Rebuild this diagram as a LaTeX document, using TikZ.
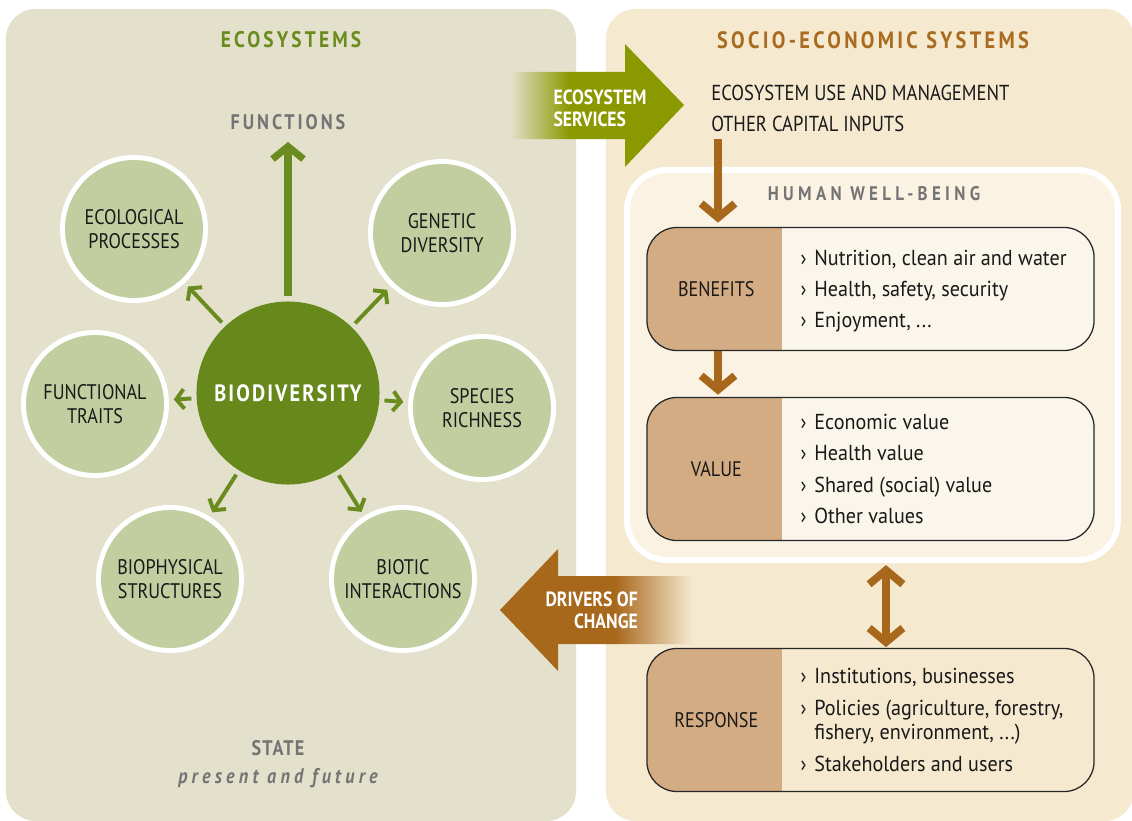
\documentclass[tikz,border=0pt]{standalone}
\usepackage{fontspec}
\setmainfont{PT Sans}[FakeStretch=0.86]
\newfontfamily\listfont{PT Sans}[FakeStretch=0.93]
\newfontfamily\tightcaps{PT Sans}[FakeStretch=0.86,LetterSpace=6]
\newfontfamily\corecaps{PT Sans}[FakeStretch=0.86,LetterSpace=9]
\newfontfamily\spacedcaps{PT Sans}[FakeStretch=0.86,LetterSpace=14]
\newfontfamily\futurefont{PT Sans}[FakeStretch=0.86,LetterSpace=20]
\newfontfamily\widecaps{PT Sans}[FakeStretch=0.86,LetterSpace=22]
\usetikzlibrary{arrows.meta,positioning,calc}
\definecolor{ecobg}{HTML}{E3E1CC}
\definecolor{socbg}{HTML}{F5E9D0}
\definecolor{hwbbg}{HTML}{FAF3E4}
\definecolor{boxbg}{HTML}{FBF6EB}
\definecolor{satgreen}{HTML}{C2CDA0}
\definecolor{biogreen}{HTML}{67881A}
\definecolor{leaf}{HTML}{6A8B1E}
\definecolor{svcgreen}{HTML}{8B9900}
\definecolor{rust}{HTML}{A8681C}
\definecolor{lblbrown}{HTML}{D4AC83}
\definecolor{titlebrown}{HTML}{A86B20}
\definecolor{midgray}{HTML}{747474}
\pgfdeclarehorizontalshading{svcfade}{100bp}{color(0bp)=(ecobg); color(25bp)=(ecobg); color(42bp)=(svcgreen); color(100bp)=(svcgreen)}
\pgfdeclarehorizontalshading{drvfade}{100bp}{color(0bp)=(rust); color(55bp)=(rust); color(75bp)=(socbg); color(100bp)=(socbg)}
\newcommand\labelsize{\fontsize{15}{17}\selectfont}
\newcommand\bul{\makebox[9.8pt][l]{›}}
\newcommand\cont{\hspace*{9.8pt}}
\tikzset{
    panel/.style={
        rectangle,
        rounded corners=0.75cm,
        inner sep=0pt,
    },
    sat/.style={
        circle,
        draw=white,
        line width=3.5pt,
        fill=satgreen,
        minimum size=3.575cm,
        inner sep=0pt,
        align=center,
        text=black!90,
        font=\labelsize,
    },
    core/.style={
        circle,
        fill=biogreen,
        minimum size=4.575cm,
        inner sep=0pt,
        text=white,
        font=\corecaps\bfseries\fontsize{16.8}{19}\selectfont,
    },
    heading/.style={
        inner sep=0pt,
        font=\spacedcaps\bfseries\fontsize{16}{19}\selectfont,
    },
    usetext/.style={
        inner sep=0pt,
        text=black!90,
        font=\fontsize{15.4}{18}\selectfont,
    },
    infobox/.style={
        rectangle,
        rounded corners=0.75cm,
        draw=black!85,
        line width=0.9pt,
        fill=boxbg,
        minimum width=11.175cm,
        path picture={\fill[lblbrown, sharp corners] (path picture bounding box.north west)
            rectangle ([xshift=3.375cm]path picture bounding box.south west);},
    },
    boxlabel/.style={
        inner sep=0pt,
        text=black!90,
        font=\labelsize,
    },
    listtext/.style={
        inner sep=0pt,
        align=left,
        text=black!90,
        font=\listfont\fontsize{15.4}{17.7}\selectfont,
    },
    bigtext/.style={
        inner sep=0pt,
        text=white,
        font=\bfseries\fontsize{14.6}{15.5}\selectfont,
    },
    garrow/.style={
        draw=leaf,
        line width=5pt,
        -{Straight Barb[length=9pt,width=22pt]},
    },
    sarrow/.style={
        draw=leaf,
        line width=2.8pt,
        -{Straight Barb[length=5.5pt,width=14pt]},
        shorten <=3.5pt,
        shorten >=3.5pt,
    },
    barrow/.style={
        draw=rust,
        line width=5.5pt,
        -{Straight Barb[length=10pt,width=24pt]},
    },
    dbarrow/.style={
        draw=rust,
        line width=5.5pt,
        {Straight Barb[length=10pt,width=24pt]}-{Straight Barb[length=10pt,width=24pt]},
    },
}
\begin{document}
\begin{tikzpicture}[x=0.025cm,y=-0.025cm]
    \useasboundingbox (0,0) rectangle (1132,821);
    \fill[white] (0,0) rectangle (1132,821);
    % panels
    \node[panel, fill=ecobg, minimum width=14.25cm, minimum height=20.3cm] (ecopanel) at (291,415) {};
    \node[panel, fill=socbg, minimum width=13.2cm, minimum height=20.3cm] (socpanel) at (870,415) {};
    \node[panel, draw=white, line width=4.2pt, fill=hwbbg, rounded corners=1cm,
        minimum width=12.275cm, minimum height=9.75cm] (hwb) at (872.5,365) {};
    \node[heading, text=leaf] (ecotitle) at (291,40) {ECOSYSTEMS};
    \node[heading, text=titlebrown, font=\spacedcaps\bfseries\fontsize{16.8}{19}\selectfont] (soctitle) at (873,40) {SOCIO-ECONOMIC SYSTEMS};
    \node[heading, text=midgray, font=\widecaps\bfseries\fontsize{14}{17}\selectfont] (hwbtitle) at (874,194) {HUMAN WELL-BEING};

    % ecosystem side
    \node[heading, text=midgray, font=\spacedcaps\bfseries\fontsize{15}{18}\selectfont] (functions) at (288,122) {FUNCTIONS};
    \node[core] (bio) at (288,393) {BIODIVERSITY};
    \node[sat] (eco) at (134,229) {ECOLOGICAL\\PROCESSES};
    \node[sat] (gen) at (442,233) {GENETIC\\DIVERSITY};
    \node[sat] (fun) at (95,404) {FUNCTIONAL\\TRAITS};
    \node[sat] (spe) at (482,408) {SPECIES\\RICHNESS};
    \node[sat] (bph) at (170,579) {BIOPHYSICAL\\STRUCTURES};
    \node[sat] (bti) at (403,579) {BIOTIC\\INTERACTIONS};
    \draw[garrow, shorten <=4pt, shorten >=8.5pt] (bio) -- (functions);
    \foreach \s in {eco,gen,fun,spe,bph,bti}
        \draw[sarrow] (bio) -- (\s);
    \node[heading, text=midgray, font=\tightcaps\bfseries\fontsize{15}{18}\selectfont] (state) at (278,748) {STATE};
    \node[heading, text=midgray, font=\futurefont\bfseries\itshape\fontsize{15}{18}\selectfont] (future) at (278,778) {present and future};

    % socio-economic side
    \node[usetext, anchor=west] (use) at (711,93) {ECOSYSTEM USE AND MANAGEMENT};
    \node[usetext, anchor=west] (inputs) at (711,124) {OTHER CAPITAL INPUTS};
    \node[infobox, minimum height=3.075cm] (ben) at (870.5,289) {};
    \node[infobox, minimum height=3.575cm] (val) at (870.5,469) {};
    \node[infobox, fill=socbg, minimum height=3.575cm] (resp) at (870.5,720) {};
    \node[boxlabel] (benlbl) at ($(ben.west)+(70,0)$) {BENEFITS};
    \node[boxlabel] (vallbl) at ($(val.west)+(70,0)$) {VALUE};
    \node[boxlabel] (resplbl) at ($(resp.west)+(70,0)$) {RESPONSE};
    \node[listtext, anchor=west] (benlist) at ($(ben.west)+(154,2)$)
        {\bul Nutrition, clean air and water\\[4.6pt]\bul Health, safety, security\\[4.6pt]\bul Enjoyment, ...};
    \node[listtext, anchor=west] (vallist) at ($(val.west)+(154,0)$)
        {\bul Economic value\\[4.6pt]\bul Health value\\[4.6pt]\bul Shared (social) value\\[4.6pt]\bul Other values};
    \node[listtext, anchor=west] (resplist) at ($(resp.west)+(154,0)$)
        {\bul Institutions, businesses\\[4.6pt]\bul Policies (agriculture, forestry,\\\cont fishery, environment, ...)\\[4.6pt]\bul Stakeholders and users};
    \coordinate (tap) at (718,139);
    \coordinate (link) at (886,0);
    \draw[barrow, shorten >=3pt] (tap) -- (tap |- ben.north);
    \draw[barrow, shorten >=1.5pt] (ben.south -| tap) -- (val.north -| tap);
    \draw[dbarrow, shorten <=1.5pt, shorten >=0.5pt] (hwb.south -| link) -- (resp.north -| link);

    % flows between the systems
    \shade[shading=svcfade] (510,72) -- (625,72) -- (625,44) -- (684,105) -- (625,167) -- (625,139) -- (510,139) -- cycle;
    \node[bigtext, align=left] (svc) at (600,108) {ECOSYSTEM\\SERVICES};
    \shade[shading=drvfade] (500,610) -- (558,549) -- (558,576) -- (692,576) -- (692,644) -- (558,644) -- (558,671) -- cycle;
    \node[bigtext, align=right, anchor=east] (drv) at (638,610) {DRIVERS OF\\CHANGE};
\end{tikzpicture}
\end{document}
